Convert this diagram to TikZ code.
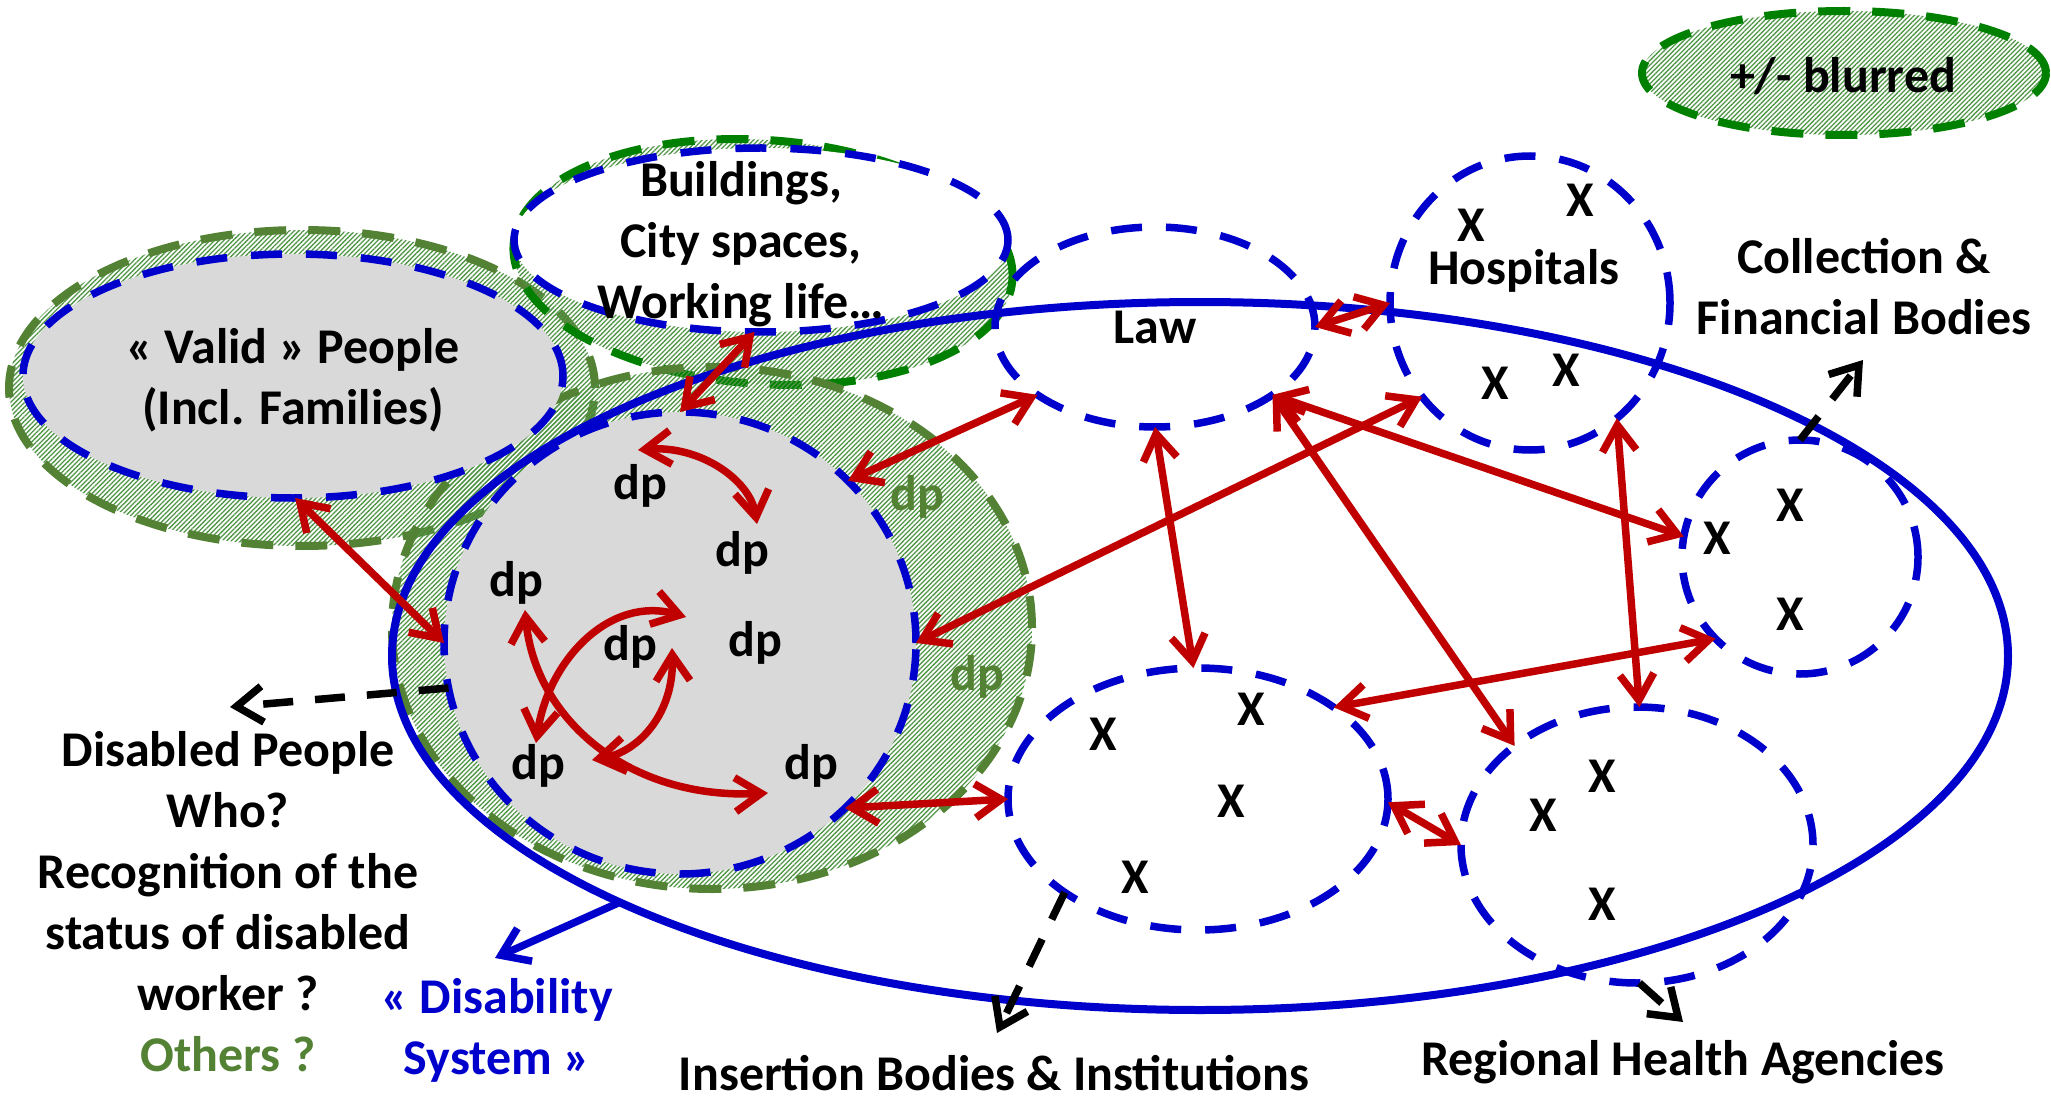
\documentclass[tikz,border=0pt]{standalone}
\usepackage{fontspec}
\setmainfont{Carlito}
\usetikzlibrary{shapes.geometric, arrows.meta, patterns.meta}

\definecolor{sysblue}{RGB}{0,0,204}
\definecolor{arrred}{RGB}{192,0,0}
\definecolor{ringgreen}{RGB}{84,130,53}
\definecolor{puregreen}{RGB}{0,128,0}
\definecolor{hatchgreen}{RGB}{80,150,70}
\definecolor{fillgrey}{RGB}{217,217,217}

\tikzset{
  txt/.style={font=\fontsize{50}{61}\selectfont\bfseries, align=center},
  hatched/.style={pattern={Lines[angle=45,distance=3.3pt,line width=1.3pt]}, pattern color=hatchgreen},
  bdash/.style={draw=sysblue, line width=7.5pt, dash pattern=on 31pt off 24pt},
  gdash/.style={line width=8pt, dash pattern=on 32pt off 22pt},
  blob/.style={ellipse, inner sep=0pt, outer sep=0pt},
  link/.style={draw=arrred, line width=7.5pt,
    {Straight Barb[length=26pt,width=34pt]}-{Straight Barb[length=26pt,width=34pt]}},
  lead/.style={draw=black, line width=7.5pt, dash pattern=on 30pt off 22pt,
    -{Straight Barb[length=26pt,width=36pt]}},
}

\begin{document}
\begin{tikzpicture}[x=1pt, y=-1pt, every node/.style={inner sep=0pt, outer sep=0pt}]
\useasboundingbox (0,0) rectangle (2051,1099);
\fill[white] (0,0) rectangle (2051,1099);

% hatched ("blurred") zones
\node[blob, hatched, gdash, draw=puregreen, minimum width=404pt, minimum height=124pt] (legend) at (1844,73) {};
\node[blob, hatched, gdash, draw=ringgreen, minimum width=586pt, minimum height=316pt] (validout) at (302,388) {};
\node[blob, hatched, gdash, draw=puregreen, minimum width=500pt, minimum height=244pt, rotate=-4] (bldout) at (763,262) {};
\node[blob, hatched, gdash, draw=ringgreen, minimum width=640pt, minimum height=522pt] (dpout) at (712,628) {};

% inner groups
\node[blob, fill=fillgrey, bdash, minimum width=540pt, minimum height=244pt] (valid) at (293,376) {};
\node[blob, fill=white, bdash, minimum width=494pt, minimum height=184pt] (bld) at (761,240) {};
\node[blob, fill=fillgrey, bdash, minimum width=472pt, minimum height=462pt] (dp) at (680,643) {};

% actors of the system
\node[blob, bdash, minimum width=320pt, minimum height=200pt] (law) at (1155,327) {};
\node[blob, bdash, minimum width=280pt, minimum height=294pt] (hosp) at (1530,303) {};
\node[blob, bdash, minimum width=236pt, minimum height=234pt] (coll) at (1800,557) {};
\node[blob, bdash, minimum width=380pt, minimum height=262pt] (ins) at (1198,799) {};
\node[blob, bdash, minimum width=352pt, minimum height=276pt] (reg) at (1637,845) {};

% the disability system
\node[blob, draw=sysblue, line width=8pt, minimum width=1616pt, minimum height=708pt] (sys) at (1200,656) {};

% labels
\node[txt] (legtxt) at (1843,76) {+/- blurred};
\node[txt] (validtxt) at (293,380) {« Valid » People\\(Incl. Families)};
\node[txt] (bldtxt) at (741,244) {Buildings,\\City spaces,\\Working life…};
\node[txt] (lawtxt) at (1155,327) {Law};
\node[txt] (hosptxt) at (1524,271) {Hospitals};
\node[txt] (colltxt) at (1864,287) {Collection \&\\Financial Bodies};
\node[txt] (instxt) at (994,1073) {Insertion Bodies \& Institutions};
\node[txt] (regtxt) at (1683,1062) {Regional Health Agencies};
\node[txt] (distxt) at (228,902) {Disabled People\\Who?\\Recognition of the\\status of disabled\\worker ?\\{\color{ringgreen}Others ?}};
\node[txt, text=sysblue] (systxt) at (497,1030) {« Disability\\System »};

% disabled people
\node[txt] (dp1) at (640,486) {dp};
\node[txt] (dp2) at (742,553) {dp};
\node[txt] (dp3) at (516,583) {dp};
\node[txt] (dp4) at (630,647) {dp};
\node[txt] (dp5) at (755,643) {dp};
\node[txt] (dp6) at (538,766) {dp};
\node[txt] (dp7) at (811,766) {dp};
\node[txt, text=ringgreen] (dp8) at (917,497) {dp};
\node[txt, text=ringgreen] (dp9) at (977,677) {dp};

% members of each actor
\foreach \n/\p in {h1/{(1471,225)}, h2/{(1580,200)}, h3/{(1495,383)}, h4/{(1566,370)},
                   c1/{(1790,505)}, c2/{(1717,538)}, c3/{(1790,614)},
                   i1/{(1103,734)}, i2/{(1251,709)}, i3/{(1231,801)}, i4/{(1135,877)},
                   r1/{(1602,776)}, r2/{(1543,815)}, r3/{(1602,904)}}
  \node[txt] (x\n) at \p {X};

% ends of the links between disabled people
\coordinate (a1) at (638,450);
\coordinate (a2) at (757,524);
\coordinate (b1) at (525,610);
\coordinate (b2) at (768,793);
\coordinate (c1) at (686,617);
\coordinate (c2) at (536,743);
\coordinate (d1) at (672,648);
\coordinate (d2) at (592,760);

\draw[link] (a1) .. controls (700,445) and (750,480) .. (a2);
\draw[link] (b1) .. controls (535,720) and (630,800) .. (b2);
\draw[link] (c1) .. controls (610,595) and (548,660) .. (c2);
\draw[link] (d1) .. controls (674,712) and (640,752) .. (d2);

% links between groups and actors
\draw[link] (valid.-89) -- (dp.180);
\draw[link] (dp.90) -- (bld.-94);
\draw[link] (dp.44) -- (law.210);
\draw[link] (dp.0) -- (hosp.221);
\draw[link] (dp.-45) -- (ins.180);
\draw[link] (law.0) -- (hosp.180);
\draw[link] (law.-90) -- (ins.92);
\draw[link] (law.-30) -- (coll.170);
\draw[link] (law.-30) -- (reg.141);
\draw[link] (hosp.-53) -- (reg.89);
\draw[link] (coll.224) -- (ins.34);
\draw[link] (ins.-1) -- (reg.180);

% pointers to the captions
\coordinate (dpl) at (230,707);
\coordinate (colll) at (1863,360);
\coordinate (insl) at (997,1033);
\coordinate (regl) at (1683,1022);
\coordinate (sysl) at (495,958);
\draw[lead] (dp.191) -- (dpl);
\draw[lead] (coll.90) -- (colll);
\draw[lead] (ins.215) -- (insl);
\draw[lead] (reg.-89) -- (regl);
\draw[draw=sysblue, line width=7.5pt, -{Straight Barb[length=26pt,width=36pt]}] (sys.203.6) -- (sysl);
\end{tikzpicture}
\end{document}
